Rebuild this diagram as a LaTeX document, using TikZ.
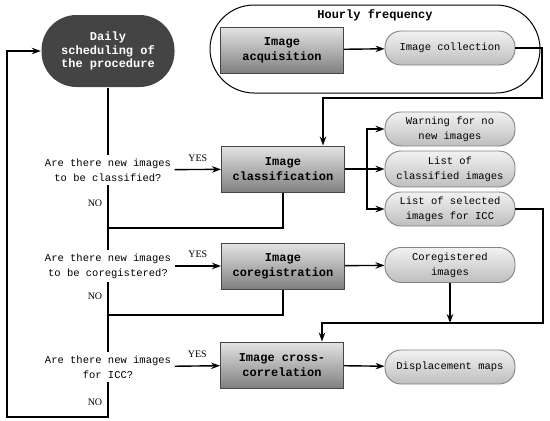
\documentclass[tikz,border=0pt]{standalone}
\usepackage{fontspec}
\setmainfont{Liberation Serif}
\setmonofont{Liberation Mono}
\usetikzlibrary{positioning,arrows.meta,calc}
\definecolor{flDark}{RGB}{68,68,68}
\definecolor{flEdge}{RGB}{70,70,70}
\definecolor{flTop}{RGB}{228,228,228}
\definecolor{flBot}{RGB}{128,128,128}
\definecolor{flSoftTop}{RGB}{242,242,242}
\definecolor{flSoftBot}{RGB}{190,190,190}
\definecolor{flSoftEdge}{RGB}{130,130,130}

\begin{document}
\begin{tikzpicture}[
    x=1pt, y=-1pt,
    line width=1.4pt,
    flow/.style={-{Stealth[length=9pt,width=6.5pt]}},
    start/.style={rectangle, rounded corners=35pt, fill=flDark, text=white, minimum width=133pt, minimum height=72pt, align=center, font=\fontsize{12}{13.5}\selectfont\ttfamily\bfseries},
    frame/.style={rectangle, rounded corners=44pt, draw, line width=1pt, minimum width=330pt, minimum height=88pt},
    task/.style={rectangle, draw=flEdge, line width=1pt, top color=flTop, bottom color=flBot, minimum width=123pt, minimum height=46pt, align=center, font=\fontsize{12}{15}\selectfont\ttfamily\bfseries},
    product/.style={rectangle, rounded corners=16pt, draw=flSoftEdge, line width=0.9pt, top color=flSoftTop, bottom color=flSoftBot, minimum width=130pt, minimum height=34pt, align=center, font=\fontsize{10.5}{15}\selectfont\ttfamily},
    query/.style={align=center, inner sep=3pt, font=\fontsize{10.5}{15}\selectfont\ttfamily},
    answer/.style={font=\fontsize{10}{12}\selectfont\rmfamily}
]
  \useasboundingbox (0,0) rectangle (550,421);

  % hourly part
  \node[frame] (hourly) at (375,49) {};
  \node[font=\fontsize{12}{15}\selectfont\ttfamily\bfseries] (hourlyt) at (375,15) {Hourly frequency};
  \node[task] (acq) at (282,50) {Image\\acquisition};
  \node[product] (coll) at (450,48) {Image collection};

  % daily part
  \node[start] (sched) at (108,51) {Daily\\scheduling of\\the procedure};
  \node[query] (q1) at (108,170) {Are there new images\\to be classified?};
  \node[query] (q2) at (108,266) {Are there new images\\to be coregistered?};
  \node[query] (q3) at (108,367) {Are there new images\\for ICC?};

  \node[task] (class) at (283,169) {Image\\classification};
  \node[task] (coreg) at (283,266) {Image\\coregistration};
  \node[task] (icc) at (282,365) {Image cross-\\correlation};

  \node[product] (warn) at (450,129) {Warning for no\\new images};
  \node[product, minimum height=36pt] (listc) at (450,169) {List of\\classified images};
  \node[product] (lists) at (450,209) {List of selected\\images for ICC};
  \node[product, minimum height=35pt] (coregd) at (450,265) {Coregistered\\images};
  \node[product] (disp) at (450,367) {Displacement maps};

  \node[answer] (no1) at (95,203) {NO};
  \node[answer] (no2) at (95,296) {NO};
  \node[answer] (no3) at (95,402) {NO};

  \coordinate (j1) at (108,228);
  \coordinate (j2) at (108,315);
  \coordinate (m1) at (542,98);
  \coordinate (m2) at (543,323);
  \coordinate (b1) at (367,169);
  \coordinate (back) at (7,417);

  \draw[flow] (acq) -- (coll);
  \draw[flow] (coll.east) -| (m1) -| ([xshift=40pt]class.north);

  \draw (sched) -- (q1);
  \draw (q1) -- (q2);
  \draw (q2) -- (q3);
  \draw[flow] (q3.south) |- (back) |- (sched.west);

  \draw[flow] (q1) -- node[answer, above, yshift=4pt] {YES} (class);
  \draw[flow] (q2) -- node[answer, above, yshift=4pt] {YES} (coreg);
  \draw[flow] (q3) -- node[answer, above, yshift=4pt] {YES} (icc);

  \draw (class.south) |- (j1);
  \draw (coreg.south) |- (j2);

  \draw[flow] (class) -- (listc);
  \draw[flow] (b1) |- (warn.west);
  \draw[flow] (b1) |- (lists.west);
  \draw[flow] (lists.east) -| (m2) -| ([xshift=40pt]icc.north);

  \draw[flow] (coreg) -- (coregd);
  \draw[flow] (coregd.south) -- (coregd.south |- m2);
  \draw[flow] (icc) -- (disp);
\end{tikzpicture}
\end{document}
